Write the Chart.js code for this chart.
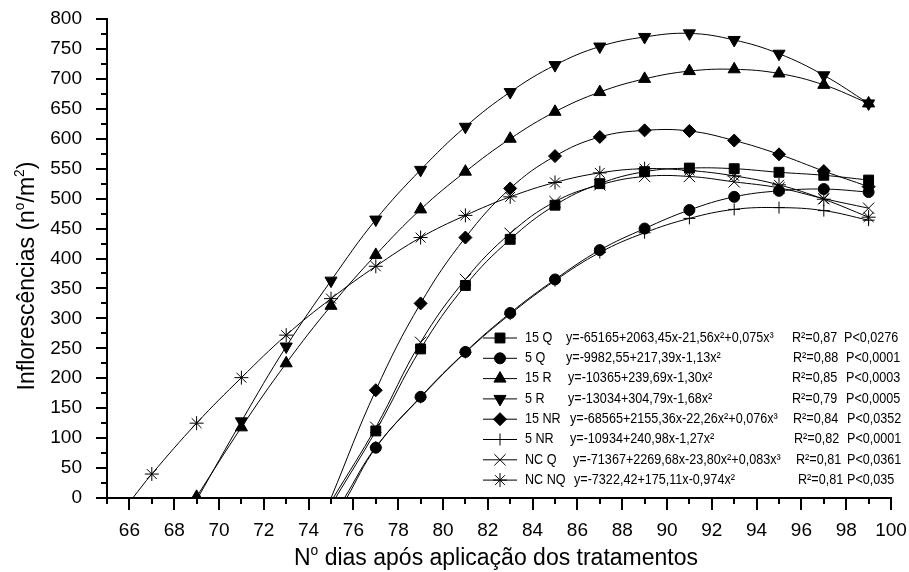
<!DOCTYPE html>
<html>
<head>
<meta charset="utf-8">
<script src="https://cdn.jsdelivr.net/npm/chart.js@4.4.1/dist/chart.umd.min.js"></script>
<style>
  html, body { margin: 0; padding: 0; background: #fff; }
  #wrap { width: 909px; height: 572px; }
</style>
</head>
<body>
<div id="wrap"><canvas id="chart"></canvas></div>
<script>
/* Inflorescências x dias após aplicação — 8 fitted curves, black markers */

const FONT = "'Liberation Sans', Arial, Helvetica, sans-serif";
Chart.defaults.font.family = FONT;
Chart.defaults.color = "#000";

// days with markers
const DAYS = [67, 69, 71, 73, 75, 77, 79, 81, 83, 85, 87, 89, 91, 93, 95, 97, 99];

// values (null = no point that day)
const Q15   = [null, null, null, null, null, 112, 249, 355, 432, 489, 525, 545, 551, 550, 544, 539, 531];
const Q5    = [null, null, null, null, null, 84, 169, 244, 309, 365, 414, 450, 481, 503, 513, 516, 511];
const R15   = [null, 2, 118, 225, 321, 406, 482, 545, 600, 645, 678, 700, 713, 716, 709, 690, 659];
const R5    = [null, null, 128, 253, 363, 465, 548, 620, 678, 723, 754, 770, 776, 765, 742, 706, 659];
const NR15  = [null, null, null, null, null, 180, 325, 435, 517, 571, 603, 614, 613, 597, 574, 546, 520];
const NR5   = [null, null, null, null, null, 85, 168, 243, 307, 363, 410, 443, 467, 482, 485, 480, 464];
const NCQ   = [null, null, null, null, null, 118, 260, 365, 442, 495, 523, 537, 537, 528, 518, 500, 484];
const NCNQ  = [40, 125, 201, 272, 333, 387, 435, 472, 503, 527, 543, 550, 547, 538, 523, 499, 469];

// day where each curve leaves zero (null = starts on a marker)
const ROOT_DAY = [75.2, 75.7, null, 69.05, 75.0, 75.6, 75.1, 66.15];

const NAMES = ["15 Q", "5 Q", "15 R", "5 R", "15 NR", "5 NR", "NC Q", "NC NQ"];
const EQUATIONS = [
    "y=-65165+2063,45x-21,56x²+0,075x³",
    "y=-9982,55+217,39x-1,13x²",
    "y=-10365+239,69x-1,30x²",
    "y=-13034+304,79x-1,68x²",
    "y=-68565+2155,36x-22,26x²+0,076x³",
    "y=-10934+240,98x-1,27x²",
    "y=-71367+2269,68x-23,80x²+0,083x³",
    "y=-7322,42+175,11x-0,974x²",
];
const R2 = ["0,87", "0,88", "0,85", "0,79", "0,84", "0,82", "0,81", "0,81"];
const P_VALUES = ["<0,0276", "<0,0001", "<0,0003", "<0,0005", "<0,0352", "<0,0001", "<0,0361", "<0,035"];

const X_LABELS = [65, 66, 67, 68, 69, 70, 71, 72, 73, 74, 75, 76, 77, 78, 79, 80, 81, 82,
    83, 84, 85, 86, 87, 88, 89, 90, 91, 92, 93, 94, 95, 96, 97, 98, 99, 100];

const SERIES = [Q15, Q5, R15, R5, NR15, NR5, NCQ, NCNQ];

// marker look per series
const MARKERS = [
    { pointStyle: "rect", radius: 7, rotation: 0 },
    { pointStyle: "circle", radius: 5.5, rotation: 0 },
    { pointStyle: "triangle", radius: 7, rotation: 0 },
    { pointStyle: "triangle", radius: 7, rotation: 180 },
    { pointStyle: "rectRot", radius: 6.5, rotation: 0 },
    { pointStyle: "cross", radius: 6, rotation: 0 },
    { pointStyle: "crossRot", radius: 8, rotation: 0 },
    { pointStyle: "star", radius: 7, rotation: 0 },
];

const datasets = SERIES.map((vals, i) => {
    const pts = [];
    if (ROOT_DAY[i] !== null) pts.push({ x: ROOT_DAY[i], y: 0 });
    DAYS.forEach((d, k) => { if (vals[k] !== null) pts.push({ x: d, y: vals[k] }); });
    const m = MARKERS[i];
    return {
        label: NAMES[i],
        data: pts,
        borderColor: "#000",
        borderWidth: 1,
        tension: 0.4,
        fill: false,
        pointStyle: m.pointStyle,
        pointRotation: m.rotation,
        pointRadius: pts.map((p, k) => (k === 0 && ROOT_DAY[i] !== null ? 0 : m.radius)),
        pointBackgroundColor: "#000",
        pointBorderColor: "#000",
        pointBorderWidth: 1,
    };
});

/* text with superscripts */
function richWidth(ctx, segs, size) {
    let w = 0;
    segs.forEach((s) => {
        ctx.font = (s.sup ? size * 0.6 : size) + "px " + FONT;
        w += ctx.measureText(s.t).width;
    });
    return w;
}
function drawRich(ctx, segs, cx, y, size) {
    let x = cx - richWidth(ctx, segs, size) / 2;
    ctx.textAlign = "left";
    ctx.textBaseline = "alphabetic";
    segs.forEach((s) => {
        ctx.font = (s.sup ? size * 0.6 : size) + "px " + FONT;
        ctx.fillText(s.t, x, s.sup ? y - size * 0.42 : y);
        x += ctx.measureText(s.t).width;
    });
}
function narrowText(ctx, t, x, y) {
    ctx.save();
    ctx.translate(x, y);
    ctx.scale(0.9, 1);
    ctx.fillText(t, 0, 0);
    ctx.restore();
}

const EQ_X = [566, 566, 568, 568, 570, 570, 573, 574];
const R2_X = [792, 793, 792, 792, 793, 794, 796, 798];
const P_X = [844, 846, 846, 846, 847, 847, 847, 847];

const decor = {
    id: "decor",
    afterDraw(chart) {
        const ctx = chart.ctx;
        const xs = chart.scales.x, ys = chart.scales.y;
        const ca = chart.chartArea;
        ctx.save();
        ctx.strokeStyle = "#000";
        ctx.fillStyle = "#000";

        /* ticks: major / minor */
        ctx.lineWidth = 2;
        X_LABELS.forEach((d) => {
            const px = Math.round(xs.getPixelForValue(d));
            const len = d % 2 === 0 ? 12 : 6;
            ctx.beginPath(); ctx.moveTo(px, ca.bottom); ctx.lineTo(px, ca.bottom + len); ctx.stroke();
        });
        for (let v = 0; v <= 800; v += 25) {
            const py = Math.round(ys.getPixelForValue(v));
            const len = v % 50 === 0 ? 11 : 6;
            ctx.beginPath(); ctx.moveTo(ca.left, py); ctx.lineTo(ca.left - len, py); ctx.stroke();
        }

        /* axis titles */
        drawRich(ctx, [
            { t: "N" }, { t: "o", sup: true }, { t: " dias após aplicação dos tratamentos" },
        ], 496, 565, 23);
        ctx.save();
        ctx.translate(34, 276);
        ctx.rotate(-Math.PI / 2);
        drawRich(ctx, [
            { t: "Inflorescências (n" }, { t: "o", sup: true }, { t: "/m" }, { t: "2", sup: true }, { t: ")" },
        ], 0, 0, 23);
        ctx.restore();

        /* legend */
        const draw = Chart.helpers && Chart.helpers.drawPoint;
        NAMES.forEach((name, i) => {
            const y = 338 + i * 20.3;
            ctx.lineWidth = 1;
            ctx.strokeStyle = "#000";
            ctx.beginPath(); ctx.moveTo(483, y); ctx.lineTo(517, y); ctx.stroke();
            const m = MARKERS[i];
            if (draw) {
                draw(ctx, { pointStyle: m.pointStyle, rotation: m.rotation, radius: m.radius, borderWidth: 1 }, 500, y);
            } else {
                ctx.beginPath(); ctx.arc(500, y, 5, 0, Math.PI * 2); ctx.fill();
            }
            ctx.font = "14px " + FONT;
            ctx.textBaseline = "middle";
            ctx.textAlign = "left";
            narrowText(ctx, name, 525, y);
            narrowText(ctx, EQUATIONS[i], EQ_X[i], y);
            narrowText(ctx, "R²=" + R2[i], R2_X[i], y);
            narrowText(ctx, "P" + P_VALUES[i], P_X[i], y);
        });
        ctx.restore();
    },
};

new Chart(document.getElementById("chart"), {
    type: "line",
    data: { datasets },
    options: {
        responsive: true,
        maintainAspectRatio: false,
        animation: false,
        layout: { padding: { top: 19, right: 18, left: 0, bottom: 0 } },
        plugins: { legend: { display: false }, tooltip: { enabled: false } },
        scales: {
            x: {
                type: "linear",
                min: 65,
                max: 100,
                afterBuildTicks: (s) => { s.ticks = X_LABELS.map((v) => ({ value: v })); },
                afterFit: (s) => { s.height = 74; s.paddingLeft = 0; s.paddingRight = 0; },
                grid: { display: false },
                border: { display: true, color: "#000", width: 2 },
                ticks: {
                    color: "#000",
                    font: { size: 19 },
                    padding: 13,
                    maxRotation: 0,
                    autoSkip: false,
                    callback: (v) => (v % 2 === 0 ? String(v) : ""),
                },
            },
            y: {
                min: 0,
                max: 800,
                afterFit: (s) => { s.width = 107; s.paddingTop = 0; s.paddingBottom = 0; },
                grid: { display: false },
                border: { display: true, color: "#000", width: 2 },
                ticks: { stepSize: 50, color: "#000", font: { size: 19 }, padding: 17 },
            },
        },
    },
    plugins: [decor],
});
</script>
</body>
</html>
